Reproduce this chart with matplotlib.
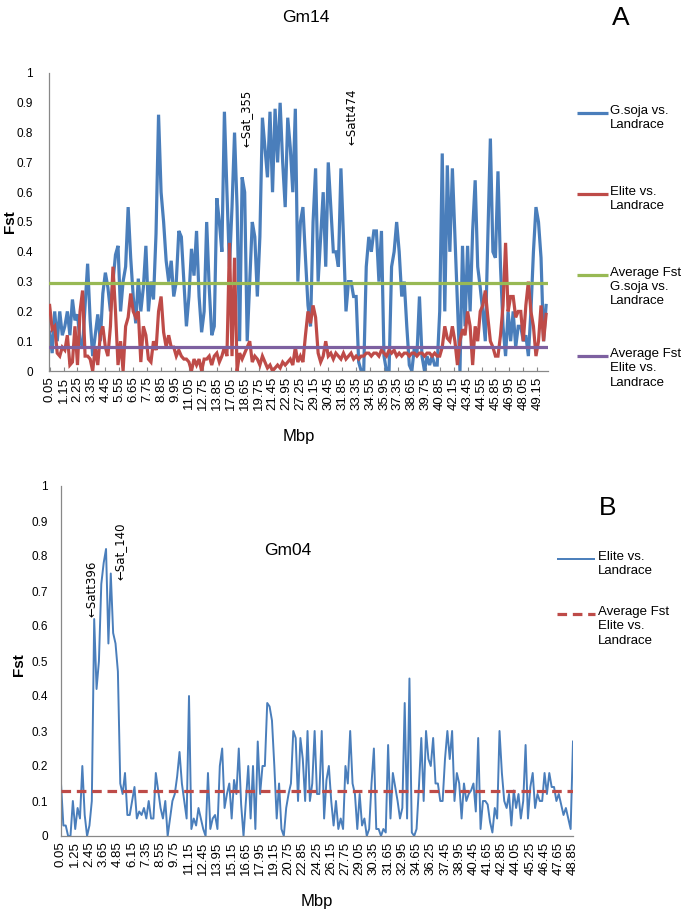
import matplotlib
matplotlib.use("Agg")
import matplotlib.pyplot as plt
from matplotlib.lines import Line2D

W, H = 681, 914

# ---- panel A: Gm14 ----
gm14_ticks = ["0.05", "1.15", "2.25", "3.35", "4.45", "5.55", "6.65", "7.75", "8.85",
              "9.95", "11.05", "12.75", "13.85", "17.05", "18.65", "19.75", "21.45",
              "22.95", "27.25", "29.15", "30.45", "31.85", "33.35", "34.55", "35.95",
              "37.35", "38.65", "39.75", "40.85", "42.15", "43.45", "44.55", "45.85",
              "46.95", "48.05", "49.15"]

# Fst, G.soja vs. Landrace (one value every 2 markers)
gm14_soja = [
    0.13, 0.06, 0.2, 0.1, 0.2, 0.12, 0.15, 0.2, 0.12, 0.24,
    0.17, 0.19, 0.1, 0.08, 0.22, 0.36, 0.17, 0.05, 0.12, 0.19,
    0.1, 0.26, 0.33, 0.28, 0.2, 0.3, 0.39, 0.42, 0.2, 0.3,
    0.35, 0.55, 0.38, 0.25, 0.16, 0.31, 0.2, 0.28, 0.42, 0.2,
    0.3, 0.24, 0.46, 0.86, 0.6, 0.5, 0.37, 0.3, 0.37, 0.25,
    0.3, 0.47, 0.45, 0.3, 0.15, 0.25, 0.41, 0.32, 0.47, 0.25,
    0.13, 0.2, 0.5, 0.28, 0.12, 0.15, 0.58, 0.5, 0.4, 0.87,
    0.6, 0.35, 0.55, 0.8, 0.55, 0.1, 0.65, 0.6, 0.1, 0.3,
    0.5, 0.45, 0.25, 0.45, 0.85, 0.75, 0.65, 0.87, 0.6, 0.88,
    0.7, 0.9, 0.7, 0.55, 0.85, 0.75, 0.6, 0.88, 0.3, 0.5,
    0.55, 0.38, 0.22, 0.15, 0.5, 0.68, 0.3, 0.45, 0.6, 0.35,
    0.7, 0.55, 0.4, 0.4, 0.35, 0.68, 0.45, 0.2, 0.3, 0.3,
    0.25, 0.25, 0.03, 0.0, 0.0, 0.35, 0.45, 0.4, 0.47, 0.47,
    0.3, 0.47, 0.05, 0.0, 0.0, 0.35, 0.4, 0.5, 0.4, 0.25,
    0.3, 0.15, 0.02, 0.0, 0.08, 0.05, 0.25, 0.05, 0.0, 0.05,
    0.02, 0.05, 0.02, 0.02, 0.2, 0.73, 0.2, 0.69, 0.4, 0.68,
    0.45, 0.22, 0.0, 0.42, 0.15, 0.42, 0.2, 0.47, 0.64, 0.35,
    0.28, 0.2, 0.1, 0.45, 0.78, 0.4, 0.38, 0.67, 0.35, 0.15,
    0.05, 0.2, 0.1, 0.2, 0.08, 0.15, 0.15, 0.1, 0.12, 0.05,
    0.2, 0.4, 0.55, 0.5, 0.38, 0.1, 0.22]

# Fst, Elite vs. Landrace
gm14_elite = [
    0.22, 0.14, 0.15, 0.06, 0.05, 0.08, 0.07, 0.12, 0.02, 0.03,
    0.15, 0.02, 0.2, 0.27, 0.05, 0.05, 0.04, 0.0, 0.08, 0.02,
    0.12, 0.15, 0.08, 0.05, 0.15, 0.35, 0.2, 0.02, 0.1, 0.0,
    0.15, 0.18, 0.26, 0.2, 0.18, 0.2, 0.03, 0.15, 0.12, 0.04,
    0.03, 0.1, 0.07, 0.2, 0.25, 0.13, 0.08, 0.12, 0.08, 0.08,
    0.05, 0.07, 0.05, 0.04, 0.04, 0.03, 0.0, 0.04, 0.02, 0.04,
    0.0, 0.04, 0.04, 0.05, 0.02, 0.05, 0.06, 0.03, 0.05, 0.08,
    0.05, 0.43, 0.05, 0.38, 0.0, 0.06, 0.04, 0.06, 0.08, 0.1,
    0.03, 0.05, 0.04, 0.02, 0.05, 0.03, 0.01, 0.02, 0.0, 0.01,
    0.02, 0.01, 0.03, 0.02, 0.03, 0.04, 0.02, 0.08, 0.03, 0.05,
    0.03, 0.12, 0.2, 0.16, 0.22, 0.18, 0.06, 0.03, 0.05, 0.1,
    0.05, 0.06, 0.04, 0.06, 0.05, 0.04, 0.06, 0.04, 0.05, 0.06,
    0.04, 0.05, 0.04, 0.05, 0.05, 0.06, 0.06, 0.05, 0.06, 0.06,
    0.05, 0.07, 0.06, 0.05, 0.07, 0.06, 0.07, 0.05, 0.06, 0.05,
    0.06, 0.06, 0.05, 0.06, 0.06, 0.05, 0.06, 0.06, 0.05, 0.06,
    0.06, 0.05, 0.06, 0.05, 0.05, 0.08, 0.15, 0.11, 0.1, 0.15,
    0.1, 0.02, 0.1, 0.14, 0.12, 0.2, 0.15, 0.02, 0.15, 0.1,
    0.2, 0.22, 0.27, 0.18, 0.1, 0.08, 0.05, 0.05, 0.12, 0.22,
    0.43, 0.2, 0.25, 0.25, 0.18, 0.2, 0.2, 0.1, 0.22, 0.3,
    0.2, 0.15, 0.05, 0.1, 0.22, 0.1, 0.19]

gm14_avg_soja = 0.295
gm14_avg_elite = 0.08

gm14_labels = ["G.soja vs.\nLandrace", "Elite vs.\nLandrace",
               "Average Fst\nG.soja vs.\nLandrace", "Average Fst\nElite vs.\nLandrace"]

# ---- panel B: Gm04 ----
gm04_ticks = ["0.05", "1.25", "2.45", "3.65", "4.85", "6.15", "7.35", "8.55", "9.75",
              "11.15", "12.45", "13.95", "15.15", "16.65", "17.95", "19.15", "20.75",
              "22.85", "24.25", "26.15", "27.75", "29.05", "30.35", "31.65", "32.95",
              "34.65", "36.25", "37.45", "38.95", "40.45", "41.65", "42.85", "44.05",
              "45.25", "46.45", "47.65", "48.85"]

gm04_elite = [
    0.15, 0.03, 0.03, 0.0, 0.0, 0.1, 0.02, 0.08, 0.05, 0.2,
    0.06, 0.0, 0.03, 0.1, 0.62, 0.42, 0.5, 0.72, 0.78, 0.82,
    0.55, 0.75, 0.58, 0.55, 0.47, 0.15, 0.12, 0.18, 0.06, 0.06,
    0.1, 0.14, 0.05, 0.07, 0.06, 0.08, 0.05, 0.1, 0.05, 0.05,
    0.18, 0.13, 0.08, 0.05, 0.1, 0.0, 0.05, 0.1, 0.12, 0.17,
    0.24, 0.15, 0.1, 0.05, 0.4, 0.02, 0.05, 0.03, 0.08, 0.05,
    0.02, 0.0, 0.18, 0.02, 0.05, 0.06, 0.02, 0.2, 0.25, 0.08,
    0.12, 0.15, 0.05, 0.16, 0.12, 0.25, 0.09, 0.0, 0.1, 0.2,
    0.05, 0.2, 0.02, 0.27, 0.12, 0.2, 0.2, 0.38, 0.37, 0.33,
    0.2, 0.05, 0.15, 0.02, 0.0, 0.08, 0.12, 0.15, 0.3, 0.28,
    0.1, 0.28, 0.22, 0.1, 0.3, 0.1, 0.15, 0.3, 0.12, 0.12,
    0.3, 0.05, 0.16, 0.2, 0.1, 0.03, 0.1, 0.02, 0.05, 0.02,
    0.2, 0.15, 0.3, 0.15, 0.12, 0.02, 0.12, 0.03, 0.05, 0.0,
    0.02, 0.15, 0.25, 0.02, 0.02, 0.0, 0.02, 0.01, 0.26, 0.05,
    0.18, 0.14, 0.1, 0.05, 0.08, 0.38, 0.05, 0.45, 0.01, 0.0,
    0.02, 0.14, 0.28, 0.1, 0.3, 0.22, 0.2, 0.28, 0.15, 0.15,
    0.1, 0.1, 0.22, 0.3, 0.22, 0.3, 0.1, 0.18, 0.15, 0.05,
    0.15, 0.1, 0.12, 0.13, 0.15, 0.07, 0.28, 0.02, 0.1, 0.1,
    0.09, 0.04, 0.01, 0.08, 0.05, 0.3, 0.18, 0.1, 0.08, 0.12,
    0.03, 0.13, 0.08, 0.12, 0.05, 0.1, 0.26, 0.05, 0.14, 0.18,
    0.08, 0.12, 0.1, 0.1, 0.18, 0.12, 0.18, 0.14, 0.14, 0.1,
    0.12, 0.09, 0.06, 0.08, 0.05, 0.02, 0.27]

gm04_avg_elite = 0.128
gm04_labels = ["Elite vs.\nLandrace", "Average Fst\nElite vs.\nLandrace"]

BLUE = "#4A7EBB"
RED = "#BE4B48"
GREEN = "#98B954"
PURPLE = "#7D60A0"
AXIS_GREY = "#888888"

FONT = ["Liberation Sans", "DejaVu Sans"]
NARROW = ["Liberation Sans Narrow", "Liberation Sans", "DejaVu Sans"]
ARROW_FONT = ["DejaVu Sans Condensed", "DejaVu Sans"]
plt.rcParams["font.family"] = FONT

DATA_STEP = 2  # each stored value covers two markers on the category axis


def px_rect(x0, y_top, x1, y_bot):
    return [x0 / W, 1 - y_bot / H, (x1 - x0) / W, (y_bot - y_top) / H]


def fig_xy(x, y):
    return x / W, 1 - y / H


def style_axes(ax, n_cat, ticks, tick_step, first_at_edge, ylab_pad):
    if first_at_edge:
        ax.set_xlim(0, n_cat - 1)
    else:
        ax.set_xlim(-0.5, n_cat - 0.5)
    ax.set_ylim(0, 1)
    yt = [i / 10 for i in range(11)]
    ax.set_yticks(yt)
    ax.set_yticklabels(["0", "0.1", "0.2", "0.3", "0.4", "0.5", "0.6", "0.7", "0.8", "0.9", "1"],
                       fontsize=8.5)
    ax.tick_params(axis="y", length=0, pad=ylab_pad)
    ax.set_xticks([i * tick_step for i in range(len(ticks))])
    ax.set_xticklabels(ticks, rotation=90, fontsize=9.5, family=NARROW)
    ax.tick_params(axis="x", length=3, direction="in", color=AXIS_GREY, pad=4)
    for s in ["top", "right"]:
        ax.spines[s].set_visible(False)
    for s in ["left", "bottom"]:
        ax.spines[s].set_color(AXIS_GREY)
        ax.spines[s].set_linewidth(0.9)


def marker_label(ax, x, y, name):
    ax.text(x, y, "\u2190" + name, rotation=90, ha="center", va="bottom", fontsize=8.5,
            family=ARROW_FONT)


def legend(fig, entries, x0, x1, xt, fs):
    for y, label, color, ls, lw in entries:
        fx0, fy = fig_xy(x0, y)
        fx1, _ = fig_xy(x1, y)
        line = Line2D([fx0, fx1], [fy, fy], transform=fig.transFigure, color=color,
                      lw=lw, linestyle=ls, solid_capstyle="butt")
        if ls == "--":
            line.set_dashes((3, 1.8))
        fig.add_artist(line)
        tx, ty = fig_xy(xt, y - 8)
        fig.text(tx, ty, label, ha="left", va="top", fontsize=fs, linespacing=1.25)


fig = plt.figure(figsize=(W / 100, H / 100), dpi=100)

# ---------- A ----------
n_a = len(gm14_soja) * DATA_STEP
xa = [i * DATA_STEP for i in range(len(gm14_soja))]
axA = fig.add_axes(px_rect(49, 73, 548, 371))
axA.plot(xa, gm14_soja, color=BLUE, lw=2.3, solid_joinstyle="miter", zorder=2)
axA.plot(xa, gm14_elite, color=RED, lw=2.3, solid_joinstyle="miter", zorder=3)
axA.axhline(gm14_avg_soja, color=GREEN, lw=2.3, zorder=4)
axA.axhline(gm14_avg_elite, color=PURPLE, lw=2.3, zorder=4)
style_axes(axA, n_a, gm14_ticks, 11, False, 11.5)
axA.set_xlabel("Mbp", fontsize=12, labelpad=14)
marker_label(axA, 155, 0.75, "Sat_355")
marker_label(axA, 239, 0.76, "Satt474")

fig.text(*fig_xy(10, 222), "Fst", rotation=90, ha="center", va="center", fontsize=11,
         fontweight="bold")
fig.text(*fig_xy(306, 17), "Gm14", ha="center", va="center", fontsize=12.5)
fig.text(*fig_xy(621, 18), "A", ha="center", va="center", fontsize=19)

legend(fig, [(113, gm14_labels[0], BLUE, "-", 2.3),
             (194, gm14_labels[1], RED, "-", 2.3),
             (275, gm14_labels[2], GREEN, "-", 2.3),
             (356, gm14_labels[3], PURPLE, "-", 2.3)], 577, 608, 610, 9.5)

# ---------- B ----------
n_b = len(gm04_elite) * DATA_STEP - 1
xb = [i * DATA_STEP for i in range(len(gm04_elite))]
axB = fig.add_axes(px_rect(61, 486, 573, 836))
axB.plot(xb, gm04_elite, color=BLUE, lw=1.4, zorder=2)
avg_line = axB.axhline(gm04_avg_elite, color=RED, lw=2.3, linestyle="--", zorder=3)
avg_line.set_dashes((3, 1.8))
style_axes(axB, n_b, gm04_ticks, 12, True, 9.5)
axB.tick_params(axis="x", length=0)
axB.set_xlabel("Mbp", fontsize=12, labelpad=14)
marker_label(axB, 26, 0.626, "Satt396")
marker_label(axB, 50, 0.73, "Sat_140")
axB.text(191, 0.817, "Gm04", ha="center", va="center", fontsize=12.5)

fig.text(*fig_xy(19, 665), "Fst", rotation=90, ha="center", va="center", fontsize=11,
         fontweight="bold")
fig.text(*fig_xy(608, 508), "B", ha="center", va="center", fontsize=19)

legend(fig, [(559, gm04_labels[0], BLUE, "-", 1.4),
             (614, gm04_labels[1], RED, "--", 2.3)], 557, 595, 598, 9.5)

fig.savefig("out.png", dpi=100)
